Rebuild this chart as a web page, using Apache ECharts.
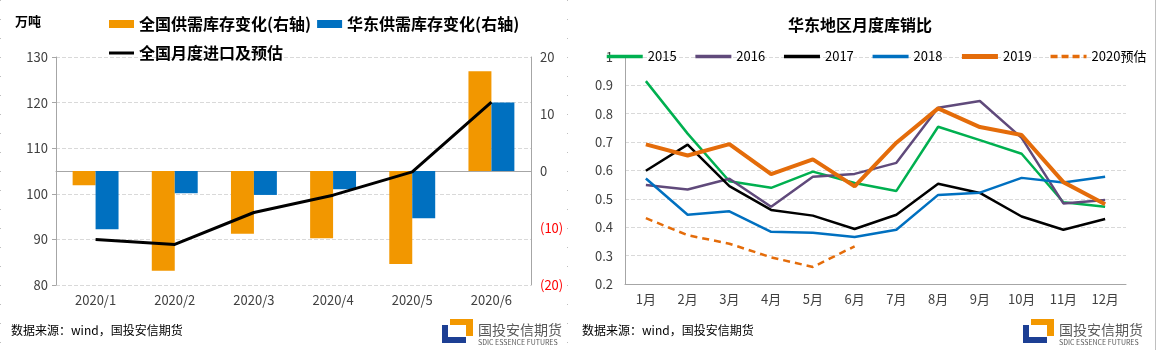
<!DOCTYPE html>
<html>
<head>
<meta charset="utf-8">
<script src="https://cdn.jsdelivr.net/npm/echarts@6/dist/echarts.min.js"></script>
<style>
  html, body { margin: 0; padding: 0; background: #fff; }
  #chart { width: 1158px; height: 350px; }
</style>
</head>
<body>
<div id="chart"></div>
<script>
// left chart: 2020 H1
const months6 = ['2020/1', '2020/2', '2020/3', '2020/4', '2020/5', '2020/6'];
const nationalStockChange = [-2.5, -17.5, -11.0, -11.8, -16.3, 17.5];
const eastStockChange = [-10.2, -3.9, -4.2, -3.2, -8.3, 12.0];
const nationalImport = [90.0, 88.9, 95.9, 99.7, 104.8, 120.1];

// right chart: East China stock/sales ratio by month
const monthLabels = ['1月', '2月', '3月', '4月', '5月', '6月', '7月', '8月', '9月', '10月', '11月', '12月'];
const ratio2015 = [0.915, 0.73, 0.562, 0.539, 0.596, 0.556, 0.528, 0.754, 0.707, 0.659, 0.488, 0.472];
const ratio2016 = [0.549, 0.533, 0.571, 0.472, 0.578, 0.588, 0.627, 0.821, 0.845, 0.715, 0.484, 0.496];
const ratio2017 = [0.599, 0.691, 0.545, 0.461, 0.441, 0.394, 0.444, 0.553, 0.521, 0.438, 0.391, 0.429];
const ratio2018 = [0.572, 0.444, 0.456, 0.384, 0.381, 0.366, 0.391, 0.514, 0.522, 0.574, 0.558, 0.578];
const ratio2019 = [0.692, 0.653, 0.693, 0.587, 0.639, 0.544, 0.698, 0.819, 0.753, 0.725, 0.559, 0.481];
const ratio2020est = [0.432, 0.372, 0.342, 0.294, 0.26, 0.333];

const FONT = 'Noto Sans CJK SC';
const AXIS_GREY = '#a6a6a6';
const LABEL = { color: '#404040', fontSize: 13, fontFamily: FONT };

const logo = (x, y) => ({
  type: 'group',
  x: x,
  y: y,
  children: [
    { type: 'polygon', shape: { points: [[8, 0], [31, 0], [31, 17], [24, 17], [24, 6], [8, 6]] }, style: { fill: '#f39800' } },
    { type: 'polygon', shape: { points: [[0, 6], [6, 6], [6, 18], [24, 18], [24, 24], [0, 24]] }, style: { fill: '#1d3f94' } },
    { type: 'text', x: 36, y: 4, style: { text: '国投安信期货', fontSize: 14, fontFamily: FONT, fill: '#595959' } },
    { type: 'text', x: 36, y: 20, style: { text: 'SDIC ESSENCE FUTURES', fontSize: 7, fontFamily: FONT, fill: '#595959' } }
  ]
});

const chart = echarts.init(document.getElementById('chart'));

chart.setOption({
  animation: false,
  textStyle: { fontFamily: FONT },
  legend: [
    {
      left: 109, top: 16, padding: 0,
      itemWidth: 25, itemHeight: 8, itemGap: 6,
      icon: 'rect',
      data: ['全国供需库存变化(右轴)', '华东供需库存变化(右轴)'],
      textStyle: { fontSize: 16, fontWeight: 'bold', color: '#000', fontFamily: FONT }
    },
    {
      left: 109, top: 45, padding: 0,
      itemWidth: 25, itemHeight: 3,
      icon: 'rect',
      data: ['全国月度进口及预估'],
      textStyle: { fontSize: 16, fontWeight: 'bold', color: '#000', fontFamily: FONT }
    },
    {
      left: 605, top: 50, padding: 0,
      itemWidth: 36, itemGap: 17,
      itemStyle: { opacity: 0 },
      lineStyle: { width: 3.5 },
      data: [
        '2015', '2016', '2017', '2018',
        { name: '2019', lineStyle: { width: 5 } },
        { name: '2020预估', lineStyle: { width: 3.5, type: [7, 4] } }
      ],
      textStyle: { fontSize: 13, color: '#000', fontFamily: FONT }
    }
  ],
  grid: [
    { left: 56, top: 57, width: 475, height: 228 },
    { left: 625, top: 57, width: 501, height: 227 }
  ],
  xAxis: [
    {
      type: 'category', gridIndex: 0, data: months6,
      axisLine: { lineStyle: { color: AXIS_GREY } },
      axisTick: { length: 5, lineStyle: { color: AXIS_GREY } },
      axisLabel: { ...LABEL, margin: 9 }
    },
    {
      type: 'category', gridIndex: 1, data: monthLabels,
      axisLine: { lineStyle: { color: AXIS_GREY } },
      axisTick: { length: 5, lineStyle: { color: AXIS_GREY } },
      axisLabel: { ...LABEL, margin: 9 }
    }
  ],
  yAxis: [
    {
      type: 'value', gridIndex: 0, min: 80, max: 130, interval: 10,
      axisLine: { show: true, lineStyle: { color: AXIS_GREY } },
      axisTick: { show: true, length: 4, lineStyle: { color: AXIS_GREY } },
      axisLabel: { ...LABEL, margin: 8 },
      splitLine: { lineStyle: { color: '#d9d9d9', type: 'dashed' } }
    },
    {
      type: 'value', gridIndex: 0, position: 'right', min: -20, max: 20, interval: 10,
      axisLine: { show: true, lineStyle: { color: AXIS_GREY } },
      axisTick: { show: false },
      splitLine: { show: false },
      axisLabel: {
        ...LABEL, margin: 9,
        formatter: (v) => (v < 0 ? '{n|(' + Math.abs(v) + ')}' : String(v)),
        rich: { n: { color: '#ff0000', fontSize: 13, fontFamily: FONT } }
      }
    },
    {
      type: 'value', gridIndex: 1, min: 0.2, max: 1, interval: 0.1,
      axisLine: { show: true, lineStyle: { color: AXIS_GREY } },
      axisTick: { show: false },
      axisLabel: { ...LABEL, margin: 12, formatter: (v) => (v > 0.99 ? '1' : v.toFixed(1)) },
      splitLine: { lineStyle: { color: '#d9d9d9', type: 'dashed' } }
    }
  ],
  series: [
    {
      name: '全国供需库存变化(右轴)', type: 'bar', xAxisIndex: 0, yAxisIndex: 1,
      barWidth: '29%', barGap: 0,
      itemStyle: { color: '#f29700' },
      data: nationalStockChange
    },
    {
      name: '华东供需库存变化(右轴)', type: 'bar', xAxisIndex: 0, yAxisIndex: 1,
      barWidth: '29%', barGap: 0,
      itemStyle: { color: '#0070c0' },
      data: eastStockChange
    },
    {
      name: '全国月度进口及预估', type: 'line', xAxisIndex: 0, yAxisIndex: 0,
      symbol: 'none', z: 5,
      itemStyle: { color: '#000' },
      lineStyle: { color: '#000', width: 3 },
      data: nationalImport
    },
    { name: '2015', type: 'line', xAxisIndex: 1, yAxisIndex: 2, symbol: 'none', itemStyle: { color: '#00b050' }, lineStyle: { color: '#00b050', width: 2.5 }, data: ratio2015 },
    { name: '2016', type: 'line', xAxisIndex: 1, yAxisIndex: 2, symbol: 'none', itemStyle: { color: '#604a7b' }, lineStyle: { color: '#604a7b', width: 2.5 }, data: ratio2016 },
    { name: '2017', type: 'line', xAxisIndex: 1, yAxisIndex: 2, symbol: 'none', itemStyle: { color: '#000' }, lineStyle: { color: '#000', width: 2.5 }, data: ratio2017 },
    { name: '2018', type: 'line', xAxisIndex: 1, yAxisIndex: 2, symbol: 'none', itemStyle: { color: '#0070c0' }, lineStyle: { color: '#0070c0', width: 2.5 }, data: ratio2018 },
    { name: '2019', type: 'line', xAxisIndex: 1, yAxisIndex: 2, symbol: 'none', z: 4, itemStyle: { color: '#e46c0a' }, lineStyle: { color: '#e46c0a', width: 4 }, data: ratio2019 },
    { name: '2020预估', type: 'line', xAxisIndex: 1, yAxisIndex: 2, symbol: 'none', itemStyle: { color: '#e46c0a' }, lineStyle: { color: '#e46c0a', width: 2.5, type: [7, 5] }, data: ratio2020est }
  ],
  graphic: [
    { type: 'text', left: 15, top: 15, style: { text: '万吨', fontSize: 13, fontWeight: 'bold', fontFamily: FONT, fill: '#000' } },
    { type: 'text', x: 860, y: 25, style: { text: '华东地区月度库销比', fontSize: 16, fontWeight: 'bold', fontFamily: FONT, fill: '#000', align: 'center', verticalAlign: 'middle' } },
    { type: 'text', x: 11, y: 330, style: { text: '数据来源：wind，国投安信期货', fontSize: 12, fontFamily: FONT, fill: '#000', verticalAlign: 'middle' } },
    { type: 'text', x: 582, y: 330, style: { text: '数据来源：wind，国投安信期货', fontSize: 12, fontFamily: FONT, fill: '#000', verticalAlign: 'middle' } },
    { type: 'line', shape: { x1: 0.5, y1: 0, x2: 0.5, y2: 350 }, style: { stroke: '#bfbfbf', lineWidth: 1, lineDash: [1, 18] } },
    { type: 'line', shape: { x1: 567.5, y1: 0, x2: 567.5, y2: 350 }, style: { stroke: '#bfbfbf', lineWidth: 1, lineDash: [1, 18] } },
    { type: 'line', shape: { x1: 1155.5, y1: 0, x2: 1155.5, y2: 350 }, style: { stroke: '#bfbfbf', lineWidth: 1 } },
    logo(442, 319),
    logo(1023, 319)
  ]
});
</script>
</body>
</html>
